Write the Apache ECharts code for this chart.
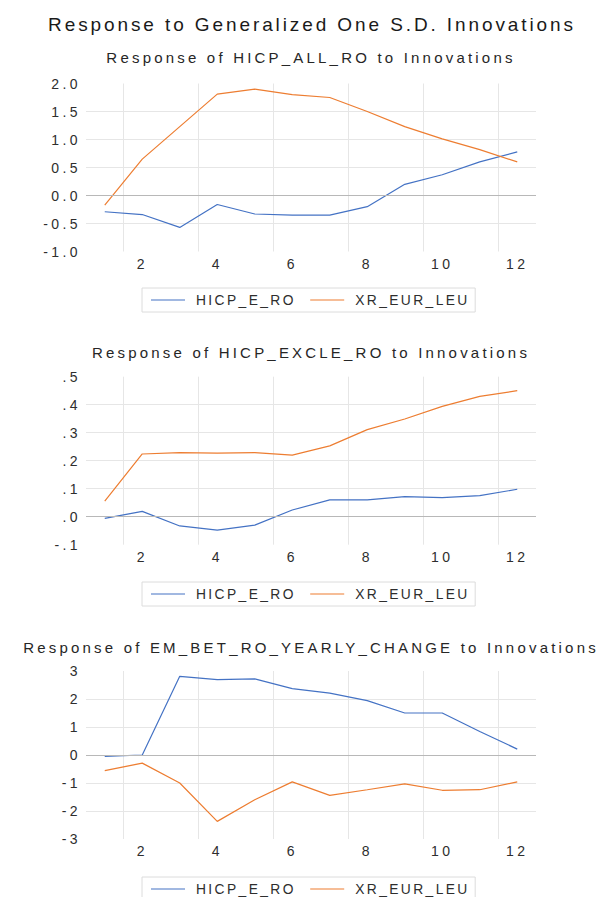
<!DOCTYPE html>
<html>
<head>
<meta charset="utf-8">
<script src="https://cdn.jsdelivr.net/npm/echarts@6/dist/echarts.min.js"></script>
<style>
  html, body { margin: 0; padding: 0; background: #ffffff; }
  #chart { width: 607px; height: 897px; }
  /* widely tracked lettering, keyed on the font sizes used in the options */
  #chart text[style*="19px"] { letter-spacing: 2.9px; }
  #chart text[style*="15px"] { letter-spacing: 3.2px; }
  #chart text[style*="14px"] { letter-spacing: 3.4px; }
  #chart text[style*="13.8px"] { letter-spacing: 2.4px; }
</style>
</head>
<body>
<div id="chart"></div>
<script>
// Impulse-response horizons
const periods = ['1', '2', '3', '4', '5', '6', '7', '8', '9', '10', '11', '12'];
const shockNames = ['HICP_E_RO', 'XR_EUR_LEU'];

// Response of HICP_ALL_RO
const allRoToHicpE = [-0.29, -0.34, -0.57, -0.16, -0.33, -0.35, -0.35, -0.20, 0.20, 0.37, 0.60, 0.78];
const allRoToXr = [-0.17, 0.65, 1.23, 1.81, 1.90, 1.80, 1.75, 1.50, 1.23, 1.01, 0.82, 0.60];

// Response of HICP_EXCLE_RO
const excleRoToHicpE = [-0.006, 0.019, -0.033, -0.048, -0.030, 0.024, 0.060, 0.060, 0.072, 0.068, 0.075, 0.098];
const excleRoToXr = [0.056, 0.224, 0.229, 0.227, 0.229, 0.220, 0.253, 0.311, 0.349, 0.394, 0.430, 0.450];

// Response of EM_BET_RO_YEARLY_CHANGE
const betRoToHicpE = [-0.05, 0.00, 2.81, 2.69, 2.72, 2.37, 2.21, 1.94, 1.50, 1.50, 0.84, 0.21];
const betRoToXr = [-0.56, -0.29, -1.00, -2.37, -1.60, -0.96, -1.44, -1.24, -1.03, -1.26, -1.24, -0.96];

// Y-axis ticks and their printed labels
const allTickValues = [-1.0, -0.5, 0.0, 0.5, 1.0, 1.5, 2.0];
const allTickLabels = ['-1.0', '-0.5', '0.0', '0.5', '1.0', '1.5', '2.0'];
const excleTickValues = [-0.1, 0.0, 0.1, 0.2, 0.3, 0.4, 0.5];
const excleTickLabels = ['-.1', '.0', '.1', '.2', '.3', '.4', '.5'];
const betTickValues = [-3, -2, -1, 0, 1, 2, 3];
const betTickLabels = ['-3', '-2', '-1', '0', '1', '2', '3'];

const mainTitle = 'Response to Generalized One S.D. Innovations';
const panelTitles = [
  'Response of HICP_ALL_RO to Innovations',
  'Response of HICP_EXCLE_RO to Innovations',
  'Response of EM_BET_RO_YEARLY_CHANGE to Innovations'
];

const FONT = "'Liberation Sans', Arial, Helvetica, sans-serif";
const lineColors = ['#4472C4', '#ED7D31'];

const panels = [
  { title: panelTitles[0], titleTop: 50, gridTop: 83.5, legendTop: 288,
    series: [allRoToHicpE, allRoToXr], tickValues: allTickValues, tickLabels: allTickLabels },
  { title: panelTitles[1], titleTop: 344.5, gridTop: 376.7, legendTop: 582,
    series: [excleRoToHicpE, excleRoToXr], tickValues: excleTickValues, tickLabels: excleTickLabels },
  { title: panelTitles[2], titleTop: 640, gridTop: 671, legendTop: 877,
    series: [betRoToHicpE, betRoToXr], tickValues: betTickValues, tickLabels: betTickLabels }
];

const everyOther = function (index) { return index % 2 === 1; };

const option = {
  animation: false,
  backgroundColor: '#ffffff',
  title: [{
    text: mainTitle, left: 312, top: 15, textAlign: 'center', padding: 0,
    textStyle: { fontFamily: FONT, fontSize: 19, fontWeight: 'normal', color: '#1a1a1a' }
  }],
  legend: [],
  grid: [],
  xAxis: [],
  yAxis: [],
  series: []
};

panels.forEach(function (p, i) {
  const ticks = p.tickValues;
  const step = ticks[1] - ticks[0];

  option.title.push({
    text: p.title, left: 311, top: p.titleTop, textAlign: 'center', padding: 0,
    textStyle: { fontFamily: FONT, fontSize: 15, fontWeight: 'normal', color: '#262626' }
  });

  option.grid.push({ left: 86, width: 450, top: p.gridTop, height: 168, containLabel: false });

  option.xAxis.push({
    type: 'category', gridIndex: i, data: periods, boundaryGap: true,
    axisLine: { show: false }, axisTick: { show: false },
    axisLabel: { interval: everyOther, margin: 5, fontFamily: FONT, fontSize: 14, color: '#2e2e2e' },
    splitLine: { show: true, interval: everyOther, showMaxLine: false,
      lineStyle: { color: '#e6e6e6', width: 1 } }
  });

  option.yAxis.push({
    type: 'value', gridIndex: i,
    min: ticks[0], max: ticks[ticks.length - 1], interval: step,
    axisLine: { show: false }, axisTick: { show: false },
    axisLabel: {
      margin: 5, fontFamily: FONT, fontSize: 14, color: '#2e2e2e',
      formatter: function (v) {
        const k = Math.round((v - ticks[0]) / step);
        return p.tickLabels[k] !== undefined ? p.tickLabels[k] : '';
      }
    },
    splitLine: { show: true, showMinLine: false, showMaxLine: false,
      lineStyle: { color: '#e6e6e6', width: 1 } }
  });

  // zero reference line, kept beneath the response lines
  option.series.push({
    name: 'zero', type: 'line', xAxisIndex: i, yAxisIndex: i, data: [], z: 1,
    markLine: {
      silent: true, symbol: 'none', animation: false,
      label: { show: false },
      lineStyle: { color: '#b8b8b8', width: 1, type: 'solid' },
      data: [{ yAxis: 0 }]
    }
  });

  p.series.forEach(function (values, j) {
    option.series.push({
      name: shockNames[j], type: 'line', xAxisIndex: i, yAxisIndex: i,
      data: values, symbol: 'none', z: 3,
      lineStyle: { color: lineColors[j], width: 1.2 },
      itemStyle: { color: lineColors[j] }
    });
  });

  // legend keys drawn as plain line segments
  option.legend.push({
    data: shockNames, top: p.legendTop, left: 142, orient: 'horizontal',
    selectedMode: false, icon: 'rect', itemWidth: 34, itemHeight: 1.2, itemGap: 36,
    padding: [5, 29.5, 5, 9],
    borderColor: '#dcdcdc', borderWidth: 1,
    textStyle: { fontFamily: FONT, fontSize: 13.8, color: '#2e2e2e', padding: [0, 0, 0, 6] }
  });
});

const chart = echarts.init(document.getElementById('chart'), null, { renderer: 'svg' });
chart.setOption(option);
</script>
</body>
</html>
